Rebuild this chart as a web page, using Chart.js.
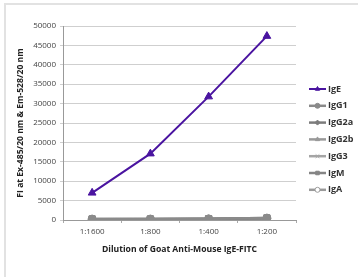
<!DOCTYPE html>
<html>
<head>
<meta charset="utf-8">
<script src="https://cdn.jsdelivr.net/npm/chart.js@4.4.0/dist/chart.umd.min.js"></script>
<style>
  body { margin: 0; background: #fff; }
  #wrap { position: relative; width: 358px; height: 277px; }
  #frame { position: absolute; left: 4px; top: 3px; right: 0; bottom: 0; border-top: 2px solid #e2e2e2; border-left: 2px solid #e2e2e2; }
  canvas { position: absolute; left: 0; top: 0; }
</style>
</head>
<body>
<div id="wrap">
  <div id="frame"></div>
  <canvas id="chart" width="358" height="277"></canvas>
</div>
<script>
// 데이터
const dilutions = ['1:1600', '1:800', '1:400', '1:200'];
const igE   = [7000, 17100, 31800, 47400];
const igG1  = [250, 250, 300, 500];
const igG2a = [200, 200, 250, 450];
const igG2b = [220, 230, 280, 480];
const igG3  = [180, 190, 240, 420];
const igM   = [260, 260, 320, 520];
const igA   = [150, 160, 200, 380];
const yTicks = [0, 5000, 10000, 15000, 20000, 25000, 30000, 35000, 40000, 45000, 50000];

const FONT = '"Open Sans", "Liberation Sans", sans-serif';

function series(label, data, color, style, radius, fill) {
    return {
        label: label,
        data: data,
        borderColor: color,
        backgroundColor: fill || color,
        pointStyle: style,
        pointRadius: radius,
        pointBorderColor: color,
        pointBackgroundColor: fill || color,
        pointBorderWidth: 1,
        borderWidth: 2.5,
        tension: 0
    };
}

// 앞쪽 데이터셋이 위에 그려짐
const datasets = [
    Object.assign(series('IgE', igE, '#4a14a0', 'triangle', 4.5), { borderWidth: 2 }),
    series('IgG1', igG1, '#8a8a8a', 'circle', 4),
    series('IgG2a', igG2a, '#7c7c7c', 'rectRot', 3),
    series('IgG2b', igG2b, '#999999', 'triangle', 4),
    series('IgG3', igG3, '#a5a5a5', 'crossRot', 4),
    series('IgM', igM, '#858585', 'rect', 4.5),
    series('IgA', igA, '#9a9a9a', 'circle', 4, '#ffffff')
];

// 오른쪽 범례 (선 + 마커)
const sideLegend = {
    id: 'sideLegend',
    afterDraw(chart) {
        const ctx = chart.ctx;
        const x0 = 309, y0 = 89, step = 16.8;
        ctx.save();
        chart.data.datasets.forEach((ds, i) => {
            const y = y0 + i * step;
            ctx.strokeStyle = ds.borderColor;
            ctx.lineWidth = ds.borderWidth;
            ctx.beginPath();
            ctx.moveTo(x0, y);
            ctx.lineTo(x0 + 17, y);
            ctx.stroke();
            ctx.fillStyle = ds.pointBackgroundColor;
            ctx.strokeStyle = ds.pointBorderColor;
            ctx.lineWidth = 1;
            Chart.helpers.drawPoint(ctx, { pointStyle: ds.pointStyle, radius: 2.5, borderWidth: 1 }, x0 + 8.5, y);
            ctx.fillStyle = '#333';
            ctx.font = 'bold 9px ' + FONT;
            ctx.textBaseline = 'middle';
            ctx.fillText(ds.label, x0 + 19, y);
        });
        ctx.restore();
    }
};

new Chart(document.getElementById('chart'), {
    type: 'line',
    data: { labels: dilutions, datasets: datasets },
    options: {
        responsive: false,
        animation: false,
        layout: { padding: { top: 26, right: 62, bottom: 0, left: 0 } },
        plugins: { legend: { display: false }, tooltip: { enabled: false } },
        scales: {
            x: {
                offset: true,
                grid: { display: true, drawOnChartArea: false, offset: true, tickLength: 3, color: '#aaa' },
                border: { color: '#999', width: 1 },
                ticks: { color: '#444', font: { family: FONT, size: 8 }, padding: 4, maxRotation: 0 },
                title: { display: true, text: 'Dilution of Goat Anti-Mouse IgE-FITC', color: '#222', font: { family: FONT, size: 8.6, weight: 'bold' }, padding: { top: 22, bottom: 22 } },
                afterFit(scale) { scale.height = 57; }
            },
            y: {
                min: 0,
                max: 50000,
                afterBuildTicks(scale) { scale.ticks = yTicks.map(v => ({ value: v })); },
                grid: { color: '#cfcfcf', tickLength: 3 },
                border: { color: '#999', width: 1 },
                ticks: { color: '#444', font: { family: FONT, size: 8 }, padding: 4, callback: v => String(v) },
                title: { display: true, text: 'FI at Ex-485/20 nm & Em-528/20 nm', color: '#222', font: { family: FONT, size: 8.6, weight: 'bold' }, padding: { top: 15, bottom: 15 } },
                afterFit(scale) { scale.width = 63; }
            }
        }
    },
    plugins: [sideLegend]
});
</script>
</body>
</html>
